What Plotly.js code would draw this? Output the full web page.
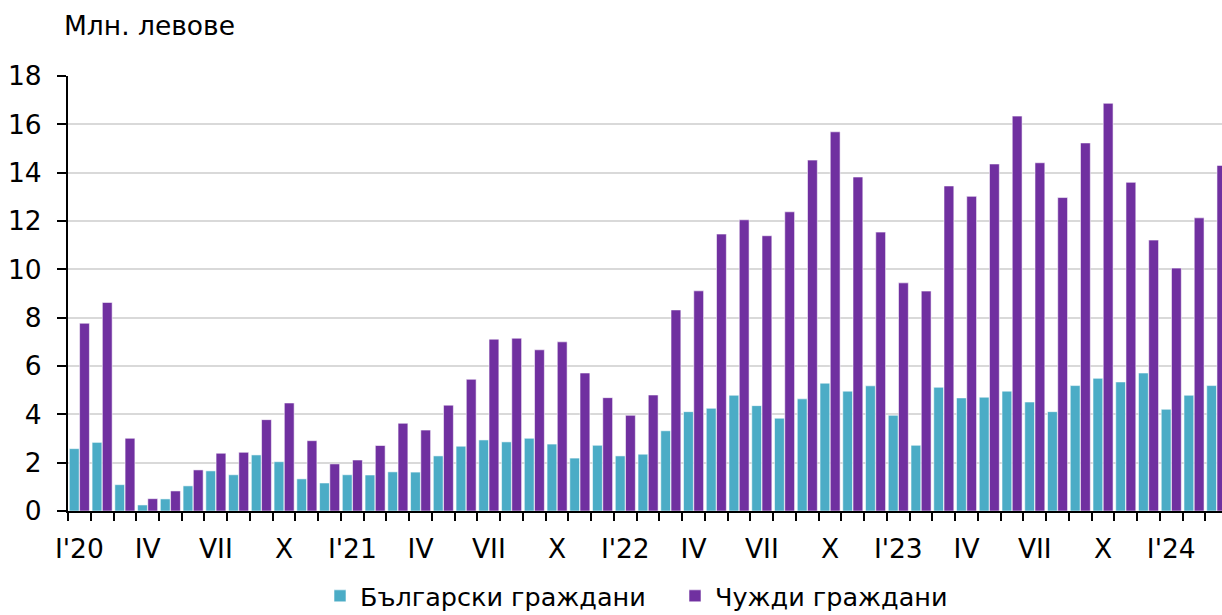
<!DOCTYPE html>
<html>
<head>
<meta charset="utf-8">
<script src="https://cdn.plot.ly/plotly-3.0.1.min.js"></script>
<style>html,body{margin:0;padding:0;overflow:hidden;background:#fff}</style>
</head>
<body>
<div id="chart" style="width:1222px;height:615px"></div>
<script>
// Monthly, I.2020 – III.2024 (million BGN)
const months = Array.from({length: 51}, (_, i) => i);
const bulgarian = [2.58, 2.84, 1.09, 0.25, 0.50, 1.04, 1.66, 1.50, 2.32, 2.04, 1.33, 1.16,
                   1.50, 1.49, 1.62, 1.61, 2.28, 2.68, 2.94, 2.86, 3.01, 2.77, 2.19, 2.72,
                   2.28, 2.35, 3.32, 4.11, 4.25, 4.79, 4.36, 3.84, 4.64, 5.29, 4.96, 5.18,
                   3.96, 2.72, 5.12, 4.68, 4.71, 4.96, 4.51, 4.11, 5.19, 5.49, 5.34, 5.71,
                   4.21, 4.79, 5.19];
const foreign = [7.77, 8.63, 3.01, 0.51, 0.83, 1.70, 2.39, 2.43, 3.78, 4.47, 2.91, 1.95,
                 2.11, 2.71, 3.63, 3.35, 4.38, 5.45, 7.11, 7.15, 6.67, 7.00, 5.71, 4.69,
                 3.96, 4.80, 8.32, 9.11, 11.46, 12.05, 11.39, 12.38, 14.52, 15.69, 13.82, 11.54,
                 9.44, 9.10, 13.45, 13.02, 14.36, 16.34, 14.41, 12.97, 15.23, 16.87, 13.60, 11.21,
                 10.05, 12.13, 14.30];
const tickPositions = [0, 3, 6, 9, 12, 15, 18, 21, 24, 27, 30, 33, 36, 39, 42, 45, 48];
const tickLabels = ["I'20", "IV", "VII", "X", "I'21", "IV", "VII", "X", "I'22", "IV", "VII", "X",
                    "I'23", "IV", "VII", "X", "I'24"];
const seriesNames = ["Български граждани", "Чужди граждани"];
const unitLabel = "Млн. левове";

const FONT = "DejaVu Sans, Verdana, sans-serif";
const FS = 26.5;

const traces = [
  {type: 'bar', x: months, y: bulgarian, name: seriesNames[0],
   marker: {color: '#4BACC6', line: {color: 'rgba(255,255,255,0.7)', width: 0.8}}},
  {type: 'bar', x: months, y: foreign, name: seriesNames[1],
   marker: {color: '#7030A0', line: {color: 'rgba(255,255,255,0.7)', width: 0.8}}}
];

const layout = {
  width: 1222, height: 615,
  margin: {l: 68, r: 0, t: 76, b: 104, autoexpand: false},
  paper_bgcolor: '#fff', plot_bgcolor: '#fff',
  barmode: 'group', bargap: 0.1, bargroupgap: 0.04,
  font: {family: FONT, size: FS, color: '#000'},
  showlegend: true,
  legend: {orientation: 'h', xref: 'container', yref: 'paper', x: 320/1222, xanchor: 'left',
           y: -0.142, yanchor: 'top', entrywidth: 310, entrywidthmode: 'pixels',
           font: {family: FONT, size: 25.5, color: '#000'}, itemwidth: 30, tracegroupgap: 0},
  xaxis: {
    range: [-0.5, 50.23], fixedrange: true, automargin: false,
    tickmode: 'array', tickvals: tickPositions, ticktext: tickLabels,
    ticks: '', showgrid: false, zeroline: false,
    showline: true, linecolor: '#000', linewidth: 2,
    ticklabelstandoff: 13,
    minor: {tickmode: 'linear', tick0: 0.5, dtick: 1, ticks: 'outside', ticklen: 8,
            tickwidth: 2, tickcolor: '#000', showgrid: false},
    tickfont: {family: FONT, size: FS}
  },
  yaxis: {
    range: [0, 18], fixedrange: true, automargin: false, tickmode: 'linear', tick0: 0, dtick: 2,
    ticks: 'outside', ticklen: 9, tickwidth: 2, tickcolor: '#000',
    showline: true, linecolor: '#000', linewidth: 2,
    showgrid: true, gridcolor: '#d9d9d9', gridwidth: 2, zeroline: false,
    ticklabelstandoff: 10,
    tickfont: {family: FONT, size: FS}
  },
  annotations: [{
    text: unitLabel, xref: 'paper', yref: 'paper', x: -0.005, y: 1.0, xanchor: 'left', yanchor: 'bottom',
    yshift: 33, showarrow: false, font: {family: FONT, size: FS, color: '#000'}
  }]
};

Plotly.newPlot('chart', traces, layout, {displayModeBar: false, staticPlot: true});
</script>
</body>
</html>
